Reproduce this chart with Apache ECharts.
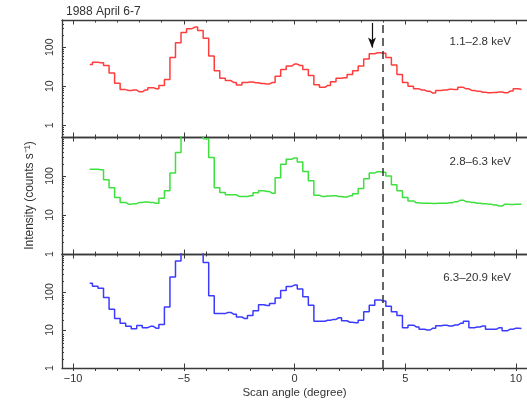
<!DOCTYPE html>
<html><head><meta charset="utf-8">
<script src="https://cdn.jsdelivr.net/npm/echarts@6/dist/echarts.min.js"></script>
<style>html,body{margin:0;padding:0;background:#fff}#c{width:527px;height:400px}</style>
</head><body><div id="c"></div>
<script>
// Scan angle bin centres (degree)
const angles = [-9.25,-9,-8.75,-8.5,-8.25,-8,-7.75,-7.5,-7.25,-7,-6.75,-6.5,-6.25,-6,-5.75,-5.5,-5.25,-5,-4.75,-4.5,-4.25,-4,-3.75,-3.5,-3.25,-3,-2.75,-2.5,-2.25,-2,-1.75,-1.5,-1.25,-1,-0.75,-0.5,-0.25,0,0.25,0.5,0.75,1,1.25,1.5,1.75,2,2.25,2.5,2.75,3,3.25,3.5,3.75,4,4.25,4.5,4.75,5,5.25,5.5,5.75,6,6.25,6.5,6.75,7,7.25,7.5,7.75,8,8.25,8.5,8.75,9,9.25,9.5,9.75,10,10.25];
// 1.1-2.8 keV intensity (counts/s)
const soft = [36,41,40,34,22,12,8.2,7.8,8.0,7.2,
  8.0,9.2,8.6,10.5,15,55,130,240,300,330,
  270,170,60,25,16,14,12.5,10.8,12.5,12.8,
  12.3,11.8,11.5,12.5,18,27,33,37,34,27,
  19,11,9.4,10.5,13,16,16.5,20,25,33,
  50,68,72,70,55,35,20,12.5,10,8.6,
  8.0,7.4,6.7,7.8,8.0,8.4,8.2,9.4,8.6,7.8,
  7.5,7.0,6.8,6.9,7.1,6.8,7.6,8.6,8.3];
// 2.8-6.3 keV
const medium = [150,148,145,80,50,28,21,19,19.5,21,
  21.5,21,20,27,42,120,400,1800,2500,2800,
  2400,900,300,50,38,33,33,30,30,31,
  37,42,40,36,90,200,270,290,230,130,
  75,32,30,30.5,31,30,29,31,35,48,
  85,120,128,125,100,60,42,28,23,20.5,
  20,20,19.8,20,20,20.5,22,24,22,21,
  20,19.5,19,18,17,19,18.5,19,19];
// 6.3-20.9 keV
const hard = [170,142,125,72,35,20,15,12.5,10.8,13.2,
  11.5,12.5,11.2,14,40,250,650,1600,2200,2500,
  2000,600,80,27,27,29,26,22,20,24,
  32,46,44,50,70,110,140,152,120,75,
  45,17,17,18,19,21,17.5,16,15.5,18,
  30,45,62,58,42,30,24,11.5,13.4,12,
  10.5,10,11.2,13,13.4,12.7,13.5,15,17,11.5,
  12,12.7,10.5,10.5,11.5,9.6,10.5,11.2,11];
const bandLabels = ['1.1–2.8 keV', '2.8–6.3 keV', '6.3–20.9 keV'];
const chartTitle = '1988 April 6-7';
const xName = 'Scan angle (degree)';
const yName = 'Intensity (counts s⁻¹)';
const xMajorTicks = [-10, -5, 0, 5, 10];
const xMinorTicks = [-10,-9,-8,-7,-6,-5,-4,-3,-2,-1,0,1,2,3,4,5,6,7,8,9,10];
const yMajorTicks = [1, 10, 100, 1000];
const yLabelTicks = [1, 10, 100];
const yMinorTicks = [0.6,0.7,0.8,0.9,2,3,4,5,6,7,8,9,20,30,40,50,60,70,80,90,200,300,400,500,600,700,800,900];
const yRanges = [[0.5, 500], [1, 1000], [1, 1000]];
const sourceAngle = 4.0;
const arrowAngle = 3.5;
const arrowFrom = 420, arrowTo = 98;

const FONT = 'Liberation Sans, Arial, sans-serif';
const AX = '#3a3a3a';
const colors = ['#ff3d3d', '#3ee03e', '#3b3bff'];
const seriesData = [soft, medium, hard];
const tops = [20, 137, 254];
const H = 117;

const grids = [], xAxes = [], yAxes = [], series = [];
for (let g = 0; g < 6; g++) grids.push({left: 62, top: tops[g % 3], width: 475, height: H});

function xAxis(grid, pos, ticks, len, major, labels, name) {
  return {
    type: 'value', gridIndex: grid, position: pos, min: -10.5, max: 10.5,
    name: name || '', nameLocation: 'middle', nameGap: 19,
    nameTextStyle: {fontFamily: FONT, fontSize: 11.5, color: '#333'},
    axisLine: {show: major, onZero: false, lineStyle: {color: AX, width: 1.3}},
    axisTick: {show: true, inside: true, length: len, customValues: ticks, lineStyle: {color: AX, width: 1}},
    axisLabel: {show: labels, customValues: xMajorTicks, margin: 5, fontFamily: FONT, fontSize: 11, color: '#333',
      formatter: v => String(v).replace('-', '−')},
    splitLine: {show: false}
  };
}
// major-tick axes (grids 0..2)
for (let i = 0; i < 3; i++) {
  xAxes.push(xAxis(i, 'bottom', xMajorTicks, 4.5, true, i === 2, i === 2 ? xName : ''));
  xAxes.push(xAxis(i, 'top', xMajorTicks, 4.5, true, false, ''));
}
// minor-tick axes (grids 3..5)
for (let i = 0; i < 3; i++) {
  xAxes.push(xAxis(3 + i, 'bottom', xMinorTicks, 2.5, false, false, ''));
  xAxes.push(xAxis(3 + i, 'top', xMinorTicks, 2.5, false, false, ''));
}
for (let i = 0; i < 3; i++) {
  yAxes.push({
    type: 'log', logBase: 10, gridIndex: i, min: yRanges[i][0], max: yRanges[i][1], position: 'left',
    name: i === 1 ? yName : '', nameLocation: 'middle', nameGap: 26, nameRotate: 90,
    nameTextStyle: {fontFamily: FONT, fontSize: 12, color: '#333'},
    axisLine: {show: true, onZero: false, lineStyle: {color: AX, width: 1.3}},
    axisTick: {show: true, inside: true, length: 4, customValues: yMajorTicks, lineStyle: {color: AX, width: 1}},
    axisLabel: {show: true, customValues: yLabelTicks, rotate: 90, margin: 6, fontFamily: FONT, fontSize: 10.5, color: '#333',
      formatter: v => String(v)},
    splitLine: {show: false}
  });
}
for (let i = 0; i < 3; i++) {
  yAxes.push({
    type: 'log', logBase: 10, gridIndex: 3 + i, min: yRanges[i][0], max: yRanges[i][1], position: 'left',
    axisLine: {show: false, onZero: false},
    axisTick: {show: true, inside: true, length: 2, customValues: yMinorTicks, lineStyle: {color: AX, width: 1}},
    axisLabel: {show: false},
    splitLine: {show: false}
  });
}
for (let i = 0; i < 3; i++) {
  const mlData = [{xAxis: sourceAngle, lineStyle: {type: [8, 5], color: '#333', width: 1.5}}];
  if (i === 0) {
    mlData.push([
      {coord: [arrowAngle, arrowFrom], symbol: 'none', lineStyle: {type: 'solid', color: '#111', width: 1.2}},
      {coord: [arrowAngle, arrowTo], symbol: 'arrow', symbolSize: [6, 10]}
    ]);
  }
  series.push({
    type: 'line', xAxisIndex: 2 * i, yAxisIndex: i, step: 'middle', showSymbol: false,
    data: angles.map((a, j) => [a, seriesData[i][j]]),
    lineStyle: {color: colors[i], width: 1.5}, itemStyle: {color: colors[i]},
    clip: true,
    markLine: {silent: true, symbol: 'none', label: {show: false}, animation: false, data: mlData}
  });
}
const titles = [{text: chartTitle, left: 61, top: 1, textStyle: {fontFamily: FONT, fontSize: 12, fontWeight: 'normal', color: '#333'}}];
const labelTops = [31, 151, 267];
for (let i = 0; i < 3; i++) titles.push({text: bandLabels[i], right: 11, top: labelTops[i],
  textStyle: {fontFamily: FONT, fontSize: 11.5, fontWeight: 'normal', color: '#333'}});

const chart = echarts.init(document.getElementById('c'), null, {renderer: 'canvas'});
chart.setOption({animation: false, backgroundColor: '#fff', title: titles, grid: grids, xAxis: xAxes, yAxis: yAxes, series: series});
</script></body></html>
